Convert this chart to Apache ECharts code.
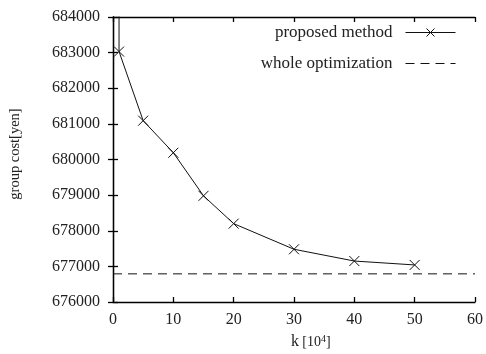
<!DOCTYPE html>
<html><head><meta charset="utf-8">
<script src="https://cdn.jsdelivr.net/npm/echarts@6/dist/echarts.min.js"></script>
<style>html,body{margin:0;padding:0;background:#fff}#c{width:486px;height:354px}</style>
</head><body><div id="c"></div>
<script>
// data
const kValues = [1, 1, 5, 10, 15, 20, 30, 40, 50];
const proposedCost = [690000, 683030, 681090, 680190, 678980, 678200, 677480, 677150, 677040];
const wholeX = [0, 60];
const wholeCost = [676790, 676790];
const xTicks = [0, 10, 20, 30, 40, 50, 60];
const yTicks = [676000, 677000, 678000, 679000, 680000, 681000, 682000, 683000, 684000];

const FONT = 'Liberation Serif';
const TXT = '#222';
const xMark = 'path://M0,0L10,10M10,0L0,10';
const chart = echarts.init(document.getElementById('c'), null, {renderer: 'canvas'});
const axisCommon = {
  axisLine: {show: true, lineStyle: {color: '#000', width: 1.3}},
  axisTick: {show: true, inside: true, length: 5, lineStyle: {color: '#000', width: 1.3}},
  splitLine: {show: false}
};
chart.setOption({
  animation: false,
  backgroundColor: '#fff',
  grid: {left: 113, right: 11, top: 17, bottom: 52, containLabel: false},
  legend: {
    orient: 'vertical', right: 25, top: 19, align: 'right',
    itemWidth: 50, itemHeight: 10, itemGap: 14,
    textStyle: {fontFamily: FONT, fontSize: 17, color: TXT, padding: [0, 8, 0, 0]},
    data: [
      {name: 'proposed method', itemStyle: {color: 'none', borderColor: '#111', borderWidth: 1}, lineStyle: {width: 1}},
      {name: 'whole optimization', itemStyle: {opacity: 0}, lineStyle: {width: 1}}
    ]
  },
  graphic: [
    {type: 'text', left: 291, top: 334, style: {
      text: '{k|k} {s|[10}{sup|4}{s|]}',
      rich: {k: {fontFamily: FONT, fontSize: 16, fill: TXT},
             s: {fontFamily: FONT, fontSize: 14, fill: TXT},
             sup: {fontFamily: FONT, fontSize: 10, fill: TXT, verticalAlign: 'top', padding: [0, 0, 6, 0]}}}},
    {type: 'text', x: 15, y: 154, rotation: Math.PI / 2, style: {
      text: 'group cost[yen]', fontFamily: FONT, fontSize: 14.5, fill: TXT,
      align: 'center', verticalAlign: 'middle'}}
  ],
  xAxis: [
    Object.assign({type: 'value', min: xTicks[0], max: xTicks[xTicks.length - 1], interval: 10,
      position: 'bottom',
      axisLabel: {fontFamily: FONT, fontSize: 16, color: TXT, margin: 10}}, axisCommon),
    Object.assign({type: 'value', min: 0, max: 60, interval: 10, position: 'top',
      axisLabel: {show: false}}, axisCommon)
  ],
  yAxis: [
    Object.assign({type: 'value', min: yTicks[0], max: yTicks[yTicks.length - 1], interval: 1000,
      position: 'left',
      axisLabel: {fontFamily: FONT, fontSize: 16, color: TXT, margin: 13, formatter: v => String(v)}}, axisCommon),
    Object.assign({type: 'value', min: 676000, max: 684000, interval: 1000, position: 'right',
      axisLabel: {show: false}}, axisCommon)
  ],
  series: [
    {
      name: 'proposed method', type: 'line', xAxisIndex: 0, yAxisIndex: 0,
      data: kValues.map((k, i) => [k, proposedCost[i]]),
      clip: true,
      symbol: xMark, symbolSize: 10, showAllSymbol: true,
      lineStyle: {color: '#111', width: 1},
      itemStyle: {color: 'none', borderColor: '#111', borderWidth: 1}
    },
    {
      name: 'whole optimization', type: 'line', xAxisIndex: 0, yAxisIndex: 0,
      data: wholeX.map((x, i) => [x, wholeCost[i]]),
      symbol: 'none',
      lineStyle: {color: '#111', width: 1, type: [9, 6]},
      itemStyle: {color: '#111'}
    }
  ]
});
</script></body></html>
